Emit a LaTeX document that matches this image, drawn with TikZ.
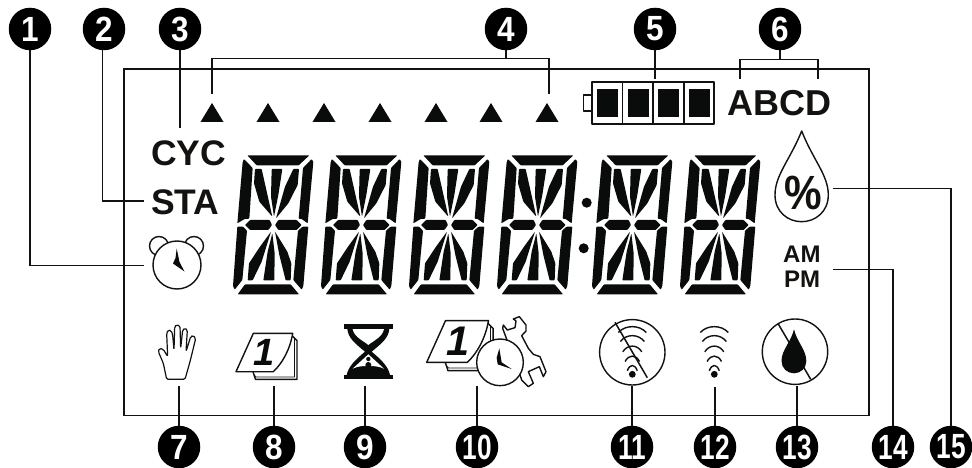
\documentclass[tikz,border=0pt]{standalone}
\usepackage{graphicx}
\usepackage{fontspec}
\setmainfont{Liberation Sans}
\definecolor{ink}{HTML}{0A0C0B}
\definecolor{txt}{HTML}{141210}
\tikzset{
  badge/.style={circle,fill=black,draw=none,minimum size=42.5pt,inner sep=0pt,text=white,font=\bfseries\fontsize{35}{35}\selectfont},
  frameline/.style={draw=txt,line width=1.9pt},
  conn/.style={draw=txt,line width=1.3pt},
  icon/.style={draw=txt,line width=1.4pt,line join=round},
  label/.style={inner sep=0pt,anchor=base west,text=txt,font=\bfseries},
  seg/.style={fill=ink,draw=none,rounded corners=0.7pt},
  tri/.style={fill=ink,draw=none},
}
\newcommand{\lcddigit}[1]{%
  \begin{scope}[shift={(200+#1,140)},x=0.33333pt,y=-0.33333pt]
    \fill[seg] (142,46)--(328,46)--(296,76)--(170,76)--cycle;
    \fill[seg] (335,57)--(340,66)--(323,250)--(305,237)--(296,236)--(309,84)--cycle;
    \fill[seg] (132,57)--(158,84)--(148,236)--(134,237)--(112,250)--(128,66)--cycle;
    \fill[seg] (112,260)--(129,260)--(141,272)--(127,420)--(104,449)--(99,438)--cycle;
    \fill[seg] (325,260)--(308,260)--(294,272)--(280,420)--(305,449)--(310,438)--cycle;
    \fill[seg] (113,463)--(135,433)--(272,433)--(297,463)--cycle;
    \fill[seg] (135,255)--(150,240)--(209,240)--(216,255)--(205,270)--(150,270)--cycle;
    \fill[seg] (225,255)--(235,240)--(290,240)--(305,255)--(290,270)--(235,270)--cycle;
    \fill[seg] (165,87)--(185,87)--(217,230)--(178,185)--(162,130)--cycle;
    \fill[seg] (215,87)--(247,87)--(235,165)--(222,230)--(213,170)--cycle;
    \fill[seg] (280,87)--(297,87)--(293,135)--(265,190)--(228,235)--(255,140)--cycle;
    \fill[seg] (213,275)--(180,320)--(147,370)--(143,421)--(158,421)--(185,365)--cycle;
    \fill[seg] (217,280)--(224,340)--(223,421)--(190,421)--(203,335)--cycle;
    \fill[seg] (225,275)--(262,335)--(274,370)--(272,421)--(257,421)--(238,345)--cycle;
  \end{scope}}
\newcommand{\calicon}[3]{%
  \begin{scope}[shift={(#1,#2)},scale=#3,transform shape]
    \draw[icon,fill=white] (17,0)--(19.5,7.7)--(61,7.7)--(61,-31)--(56,-36)--cycle;
    \draw[icon,line width=0.8pt] (18,3)--(20,5.3)--(58.5,5.3)--(58.5,-33);
    \draw[icon,fill=white] (0,0)--(17.3,-38.3)--(56.7,-38.3) .. controls (54,-22) and (46,-8) .. (37.3,0)--cycle;
    \node[inner sep=0pt,text=ink,font=\bfseries\itshape\fontsize{38}{38}\selectfont,anchor=base] at (28.5,-6) {1};
  \end{scope}}
\begin{document}
\begin{tikzpicture}[x=1pt,y=-1pt]
\useasboundingbox[fill=white] (0,0) rectangle (972,468);
% frame
\draw[frameline] (124,69) rectangle (869,415.5);
% badges
\foreach \n/\s/\xx/\yy in {1/.9/30/29,2/.9/104/29,3/.9/180/29,4/.9/506/29,5/.9/655/29,6/.9/780/29,7/.9/179/447,8/.9/274/447,9/.9/365/447,10/.75/477/447,11/.75/632/447,12/.75/715/447,13/.75/797/447,14/.75/893/447,15/.75/951/447}
  \node[badge] (c\n) at (\xx,\yy) {\scalebox{\s}[1]{\n}};
% free connector ends
\coordinate (e1) at (144,265.5);
\coordinate (e2) at (144,201);
\coordinate (e3) at (180,128);
\coordinate (e4m) at (506,58.5);
\coordinate (e4a) at (212,94);
\coordinate (e4b) at (549,94);
\coordinate (e5) at (655,79);
\coordinate (e6m) at (780,59.5);
\coordinate (e6a) at (740,79);
\coordinate (e6b) at (818,79);
\coordinate (e7) at (179,386);
\coordinate (e8) at (274,386);
\coordinate (e9) at (365,386);
\coordinate (e10) at (477,386);
\coordinate (e11) at (632,386);
\coordinate (e12) at (715,387);
\coordinate (e13) at (797,386);
\coordinate (e14) at (833,269.5);
\coordinate (e15) at (833,188.5);
% connectors
\draw[conn] (c1.south) |- (e1);
\draw[conn] ([xshift=-1.5pt]c2.south) |- (e2);
\draw[conn] (c3.south) -- (e3);
\draw[conn] (c4.south) -- (e4m);
\draw[conn] (e4a) |- (e4m) -| (e4b);
\draw[conn] (c5.south) -- (e5);
\draw[conn] (c6.south) -- (e6m);
\draw[conn] (e6a) |- (e6m) -| (e6b);
\foreach \n in {7,...,13} \draw[conn] (c\n.north) -- (e\n);
\draw[conn] (c14.north) |- (e14);
\draw[conn] (c15.north) |- (e15);
% triangles
\foreach \xx in {212,268,324,380,436,491,547}
  \fill[tri] (\xx,103)--(\xx+11.5,122)--(\xx-11.5,122)--cycle;
% labels
\node[label,font=\bfseries\fontsize{35.5}{35.5}\selectfont] (cyc) at (151,165) {CYC};
\node[label,font=\bfseries\fontsize{35.5}{35.5}\selectfont] (sta) at (151,214.5) {STA};
\node[label,font=\bfseries\fontsize{36}{36}\selectfont] (abcd) at (727,116) {ABCD};
\node[label,font=\bfseries\fontsize{24}{24}\selectfont] (am) at (783,262) {AM};
\node[label,font=\bfseries\fontsize{24}{24}\selectfont] (pm) at (784,287) {PM};
% digits
\foreach \o in {0,88,176,264,359,447} {\lcddigit{\o}}
\fill[ink] (586.7,202.7) circle (5);
\fill[ink] (583.7,248.3) circle (5);
% battery
\draw[icon] (583.5,95) rectangle (592,111);
\draw[icon,fill=white] (592,82) rectangle (714,124);
\draw[icon] (622.5,82)--(622.5,124) (653,82)--(653,124) (684,82)--(684,124);
\foreach \xx in {597,627.5,658,689}
  \fill[ink] (\xx,89) rectangle (\xx+21,117);
% water percent drop
\draw[icon] (801.7,131) .. controls (790,160) and (775,175) .. (775,195)
  .. controls (775,212) and (788,221.7) .. (801.7,221.7)
  .. controls (815,221.7) and (828.3,212) .. (828.3,195)
  .. controls (828.3,175) and (813,160) .. (801.7,131) -- cycle;
\node[inner sep=0pt,text=txt,font=\bfseries\fontsize{48}{48}\selectfont] (pct) at (803,192.5) {\scalebox{.88}[1]{\%}};
% alarm clock
\draw[icon] (159,246) circle (9.5);
\draw[icon] (194,246) circle (9.5);
\draw[icon,fill=white] (177,265) circle (24);
\fill[ink] (176.7,248.5)--(179.5,262)--(184.5,271.5)--(173,263.5)--(175.5,258)--cycle;
% hand
\begin{scope}[shift={(130,320)},x=0.33333pt,y=-0.33333pt]
\draw[icon,line width=1.2pt,rounded corners=1.5pt] (110,178)--(100,130)--(85,95)--(88,85)--(100,88)--(113,110)--(110,40)--(114,30)--(124,32)--(128,45)--(132,90)--(134,20)--(140,14)--(150,18)--(152,85)--(158,30)--(165,24)--(172,30)--(168,95)--(182,50)--(190,46)--(197,56)--(180,125)--(165,178)--cycle;
\end{scope}
% calendar
\calicon{236}{371.7}{1}
% hourglass
\begin{scope}[shift={(130,320)},x=0.33333pt,y=-0.33333pt]
\fill[ink] (642,12) rectangle (788,28);
\fill[ink] (642,164) rectangle (788,178);
\fill[ink] (652,27) .. controls (655,55) and (675,70) .. (705,95) .. controls (675,120) and (655,140) .. (650,165)
  -- (780,165) .. controls (775,140) and (755,120) .. (725,95) .. controls (755,70) and (775,55) .. (778,27) -- cycle;
\fill[white] (668,27) .. controls (672,52) and (705,65) .. (715,75) .. controls (725,65) and (758,52) .. (762,27) -- cycle;
\fill[white] (715,103) -- (668,146) .. controls (685,138) and (700,138) .. (715,138) .. controls (730,138) and (745,138) .. (762,146) -- cycle;
\fill[ink] (715,117) circle (6.5);
\fill[ink] (715,135) circle (9);
\end{scope}
% wrench, clock, calendar (scheduled maintenance)
\calicon{426.7}{362.3}{1.09}
\begin{scope}[shift={(420,315)},x=0.33333pt,y=-0.33333pt]
\draw[icon,fill=white] (248,40)--(250,30)--(262,45)--(285,38)--(288,18)--(280,12)--(298,5)--(318,30)--(318,48)--(305,62)--(325,100)--(340,118)--(360,125)--(378,170)--(370,185)--(358,155)--(325,170)--(340,205)--(325,215)--(305,195)--(297,170)--(262,78)--cycle;
\draw[icon,fill=white] (240,142) circle (70);
\fill[ink] (238,100)--(245,142)--(275,162)--(233,148)--(230,128)--cycle;
\end{scope}
% wifi signal: no signal, with circle
\draw[icon] (632.3,352.3) circle (32.7);
\foreach \cx in {632.3,714.3} {
  \fill[ink] (\cx,374.3) circle (3.4);
  \foreach \w/\top/\con in {14/326.7/324.7,12/335.7/333.7,9.5/346/344.2,7.2/355.7/354.3,5/365/363.7}
    \draw[icon] (\cx-\w,\top+5.8) .. controls (\cx-\w*0.5,\con) and (\cx+\w*0.5,\con) .. (\cx+\w,\top+5.8);
}
\draw[icon,line width=1.5pt] (615,322.3)--(647.3,377.7);
% no water
\draw[icon,fill=white] (795,351.7) circle (32.7);
\draw[icon,line width=1.5pt] (778.3,324)--(810.7,379.3);
\fill[ink] (794,329.3) .. controls (791,342) and (781.5,350) .. (781.5,361) .. controls (781.5,368) and (787,373.3) .. (794,373.3)
  .. controls (801,373.3) and (806.3,368) .. (806.3,361) .. controls (806.3,350) and (797,342) .. (794,329.3) -- cycle;
\end{tikzpicture}
\end{document}
